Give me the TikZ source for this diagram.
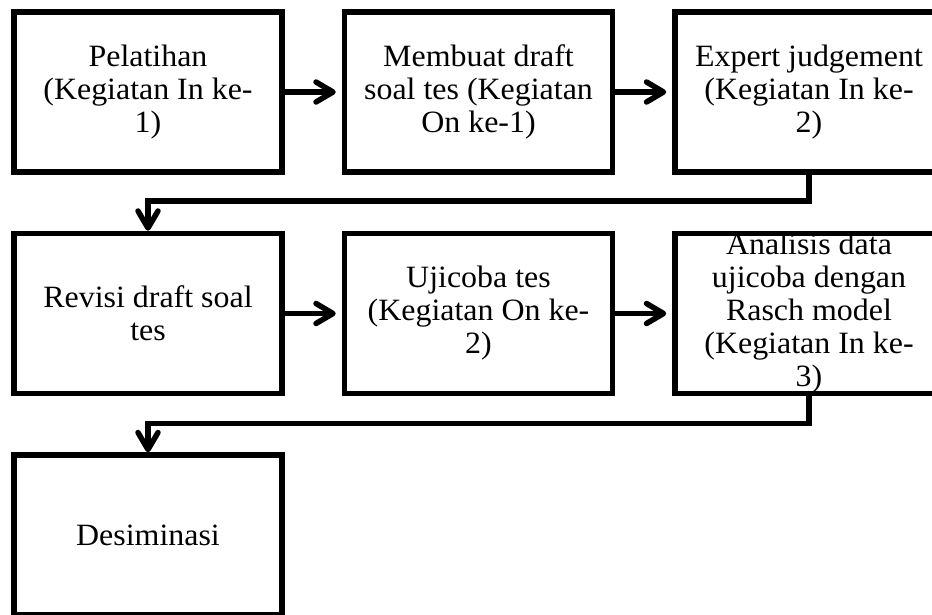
\documentclass[tikz,border=0pt]{standalone}
\usepackage{fontspec}
\usepackage{tikz}
\usetikzlibrary{arrows.meta, positioning}
\newfontfamily\boxfont[FakeStretch=1.03]{Liberation Serif}

\begin{document}
\begin{tikzpicture}[
    x=1pt, y=-1pt,
    node distance=56pt and 57pt,
    flow/.style={-{Straight Barb[round, length=17pt, width=20pt]}, line width=5.5pt},
    box/.style={rectangle, draw, line width=5.5pt, minimum width=268pt, minimum height=160pt, inner sep=0pt, align=center, font={\boxfont\fontsize{31}{33}\selectfont}}
]
    \useasboundingbox (0,0) rectangle (932,614);
    \clip (0,0) rectangle (932,614);

    \node[box] (pel) at (148,92) {Pelatihan\\(Kegiatan In ke-\\1)};
    \node[box, right=of pel] (draft) {Membuat draft\\soal tes (Kegiatan\\On ke-1)};
    \node[box, right=of draft] (expert) {Expert judgement\\(Kegiatan In ke-\\2)};

    \node[box, below=of pel] (revisi) {Revisi draft soal\\tes};
    \node[box, right=of revisi] (ujicoba) {Ujicoba tes\\(Kegiatan On ke-\\2)};
    \node[box, right=of ujicoba] (rasch) {Analisis data\\ujicoba dengan\\Rasch model\\(Kegiatan In ke-\\3)};

    \node[box, below=of revisi] (desim) {Desiminasi};

    \draw[flow, shorten >=6pt] (pel) -- (draft);
    \draw[flow, shorten >=6pt] (draft) -- (expert);
    \draw[flow] (expert.south) -- ++(0,26) -| (revisi.north);

    \draw[flow, shorten >=6pt] (revisi) -- (ujicoba);
    \draw[flow, shorten >=6pt] (ujicoba) -- (rasch);
    \draw[flow] (rasch.south) -- ++(0,27) -| (desim.north);
\end{tikzpicture}
\end{document}
